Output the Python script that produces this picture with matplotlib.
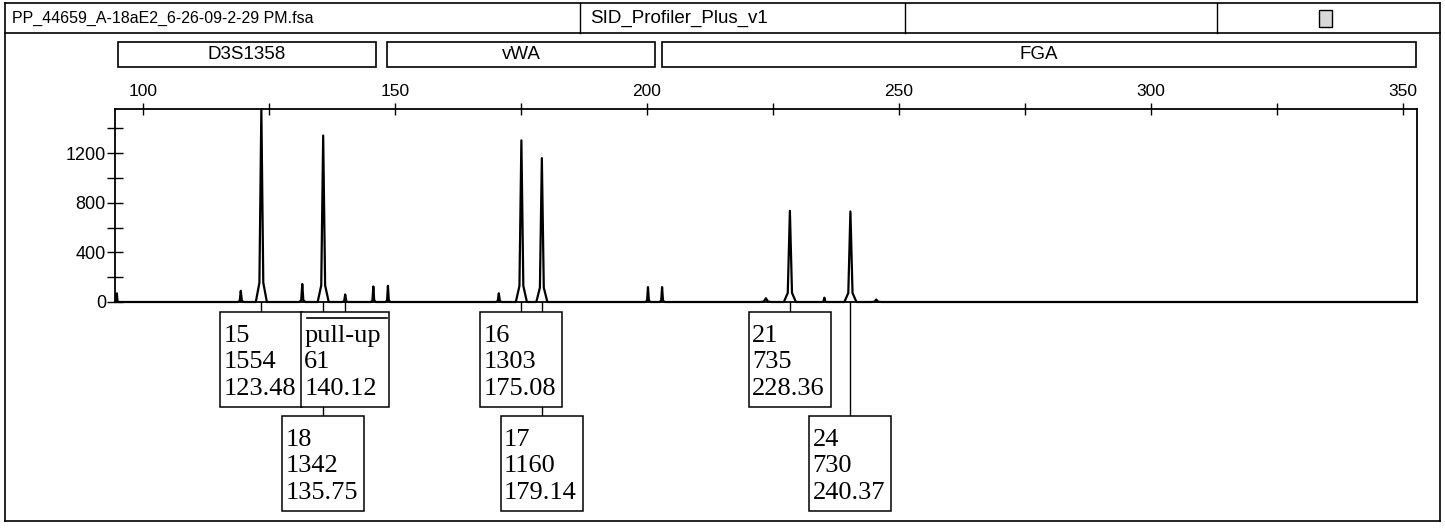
"""Electropherogram printout: D3S1358 / vWA / FGA panel with allele call boxes."""
import matplotlib
matplotlib.use("Agg")
import matplotlib.pyplot as plt
from matplotlib.lines import Line2D
from matplotlib.patches import Rectangle
from matplotlib.transforms import blended_transform_factory, ScaledTranslation

W, H = 1445, 529           # output size in pixels (dpi 100)
PX = 0.01                  # one pixel in inches

# --- data ------------------------------------------------------------------------------------
sample_file = "PP_44659_A-18aE2_6-26-09-2-29 PM.fsa"
panel_name = "SID_Profiler_Plus_v1"

loci = ["D3S1358", "vWA", "FGA"]
locus_start = [95.0, 148.4, 203.0]      # bp
locus_end = [146.2, 201.6, 352.6]

# called peaks
allele = ["15", "pull-up", "18", "16", "17", "21", "24"]
height = [1554, 61, 1342, 1303, 1160, 735, 730]         # RFU
size = [123.48, 140.12, 135.75, 175.08, 179.14, 228.36, 240.37]   # bp
label_row = [0, 0, 1, 0, 1, 0, 1]
peak_halfwidth = [1.1, 0.6, 1.1, 1.1, 1.1, 1.2, 1.2]

# small uncalled peaks (stutter, spikes)
minor_size = [94.8, 119.4, 131.6, 145.7, 148.6, 170.6, 200.2, 203.0, 223.6, 235.2, 245.5]
minor_height = [70, 90, 145, 125, 130, 70, 120, 120, 30, 35, 20]
minor_halfwidth = [0.4, 0.6, 0.6, 0.5, 0.5, 0.6, 0.5, 0.5, 1.2, 0.5, 1.0]

x_ticks = [100, 150, 200, 250, 300, 350]
x_minor = [125, 175, 225, 275, 325]
y_ticks = [0, 400, 800, 1200]
y_minor = [200, 600, 1000, 1400]
XLIM = (94.44, 352.8)
YLIM = (0, 1556)

SANS = "Liberation Sans"
SERIF = "Liberation Serif"


def fx(px):
    return px / W


def fy(py):
    return 1 - py / H


# --- trace -----------------------------------------------------------------------------------
peaks = sorted(list(zip(size, height, peak_halfwidth)) +
               list(zip(minor_size, minor_height, minor_halfwidth)))
tx, ty = [XLIM[0]], [0]
for c, h, w in peaks:
    tx += [c - w, c - 0.35 * w, c, c + 0.35 * w, c + w]
    ty += [0, 0.1 * h, h, 0.1 * h, 0]
tx.append(XLIM[1]); ty.append(0)

fig = plt.figure(figsize=(W / 100, H / 100), dpi=100)
ax = fig.add_axes([fx(115), fy(302), fx(1417) - fx(115), fy(109) - fy(302)])
ax.plot(tx, ty, color="black", lw=1.6, clip_on=False, zorder=3)
ax.set_xlim(*XLIM)
ax.set_ylim(*YLIM)

for s in ax.spines.values():
    s.set_linewidth(1.3)
ax.xaxis.tick_top()
ax.set_xticks(x_ticks)
ax.set_xticks(x_minor, minor=True)
ax.set_yticks(y_ticks)
ax.set_yticks(y_minor, minor=True)
ax.tick_params(axis="x", which="both", direction="inout", length=9, width=1,
               top=True, bottom=False, labeltop=True, labelbottom=False,
               labelsize=12.5, pad=3)
ax.tick_params(axis="y", which="both", direction="inout", length=11, width=1,
               right=False, labelsize=13, pad=1)
for lab in ax.get_xticklabels() + ax.get_yticklabels():
    lab.set_family(SANS)

# --- allele call boxes (pixel layout hung below each peak) -----------------------------------
row_top = [10, 114]           # px below the baseline
BOX_H = 95
line_base = [30, 56.5, 83]    # baselines, px below box top
for a, h, s, r in zip(allele, height, size, label_row):
    tr = fig.dpi_scale_trans + ScaledTranslation(s, 0, ax.transData)
    bw = 88 if a == "pull-up" else 82
    top = -row_top[r] * PX
    left = -bw / 2 * PX
    z = 6 - 2 * r
    ax.add_line(Line2D([0, 0], [0, top], transform=tr, color="black", lw=1,
                       clip_on=False, zorder=z - 0.5))
    ax.add_patch(Rectangle((left, top - BOX_H * PX), bw * PX, BOX_H * PX, transform=tr,
                           fc="white", ec="black", lw=1.1, clip_on=False, zorder=z))
    for txt, b in zip([a, str(h), f"{s:.2f}"], line_base):
        ax.text(left + 3 * PX, top - b * PX, txt, transform=tr, ha="left", va="baseline",
                fontsize=19, family=SERIF, clip_on=False, zorder=z + 0.2)
    if a == "pull-up":
        ax.add_line(Line2D([left + 6 * PX, left + (bw - 2) * PX], [top - 6 * PX] * 2,
                           transform=tr, color="black", lw=1.2, clip_on=False, zorder=z + 0.2))

# --- locus bins ------------------------------------------------------------------------------
bt = blended_transform_factory(ax.transData, ax.transAxes)
y_lo, y_hi = (302 - 67) / 193, (302 - 42) / 193
for name, a, b in zip(loci, locus_start, locus_end):
    ax.add_patch(Rectangle((a, y_lo), b - a, y_hi - y_lo, transform=bt, fill=False,
                           ec="black", lw=1.2, clip_on=False))
    ax.text((a + b) / 2, (y_lo + y_hi) / 2, name, transform=bt, ha="center", va="center",
            fontsize=13.5, family=SANS, clip_on=False)

# --- page frame and header -------------------------------------------------------------------
def hline(x0, x1, y, lw=1.2):
    fig.add_artist(Line2D([fx(x0), fx(x1)], [fy(y), fy(y)], color="black", lw=lw))


def vline(x, y0, y1, lw=1.2):
    fig.add_artist(Line2D([fx(x), fx(x)], [fy(y0), fy(y1)], color="black", lw=lw))


hline(5, 1440, 3)
hline(5, 1440, 33)
hline(5, 1440, 521)
vline(5, 3, 521)
vline(1440, 3, 521)
for xd in (580, 905, 1217):
    vline(xd, 3, 33, lw=1)
fig.text(fx(12), fy(18), sample_file, ha="left", va="center", fontsize=11.5, family=SANS)
fig.text(fx(590), fy(18), panel_name, ha="left", va="center", fontsize=13.5, family=SANS)
fig.add_artist(Rectangle((fx(1319), fy(27)), fx(13), fy(10) - fy(27), fc="#d8d8d8",
                         ec="black", lw=1))

fig.savefig("out.png", dpi=100)
